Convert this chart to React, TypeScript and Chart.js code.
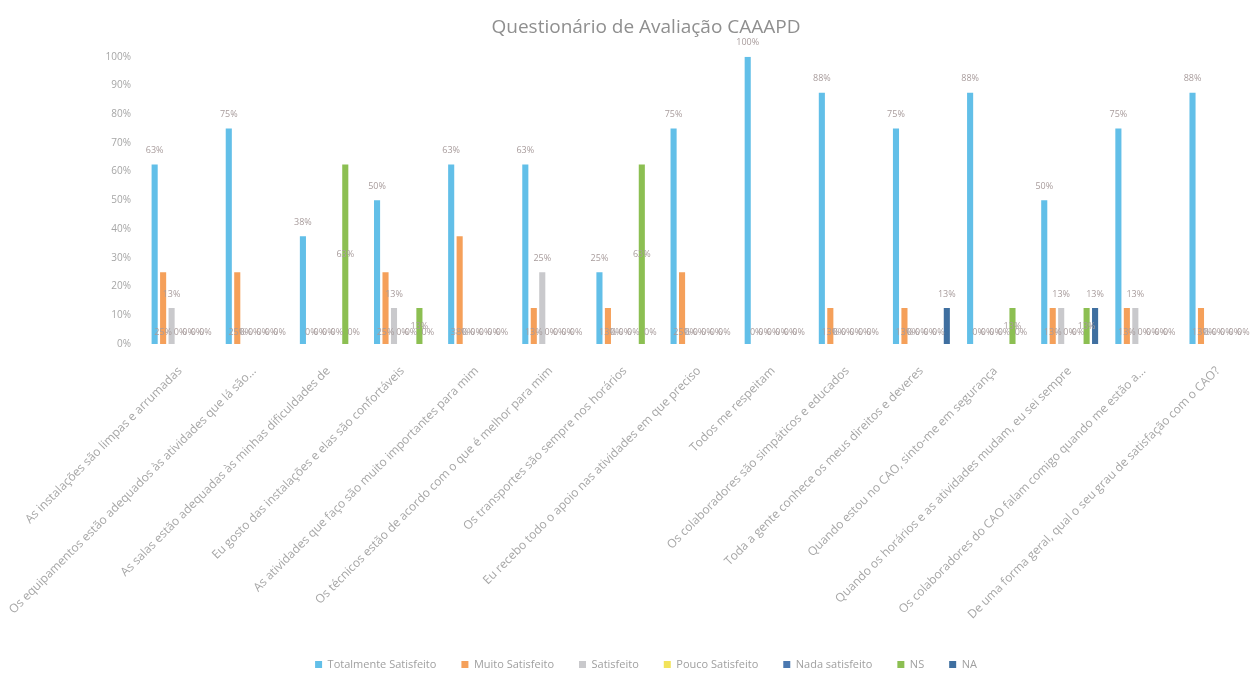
import React, { useEffect, useRef } from "react";
import { Chart, registerables } from "chart.js";

Chart.register(...registerables);

const categories: string[] = [
  "As instalações são limpas e arrumadas",
  "Os equipamentos estão adequados às atividades que lá são...",
  "As salas estão adequadas às minhas dificuldades de",
  "Eu gosto das instalações e elas são confortáveis",
  "As atividades que faço são muito importantes para mim",
  "Os técnicos estão de acordo com o que é melhor para mim",
  "Os transportes são sempre nos horários",
  "Eu recebo todo o apoio nas atividades em que preciso",
  "Todos me respeitam",
  "Os colaboradores são simpáticos e educados",
  "Toda a gente conhece os meus direitos e deveres",
  "Quando estou no CAO, sinto-me em segurança",
  "Quando os horários e as atividades mudam, eu sei sempre",
  "Os colaboradores do CAO falam comigo quando me estão a...",
  "De uma forma geral, qual o seu grau de satisfação com o CAO?",
];

const totalmenteSatisfeito = [62.5, 75, 37.5, 50, 62.5, 62.5, 25, 75, 100, 87.5, 75, 87.5, 50, 75, 87.5];
const muitoSatisfeito = [25, 25, 0, 25, 37.5, 12.5, 12.5, 25, 0, 12.5, 12.5, 0, 12.5, 12.5, 12.5];
const satisfeito = [12.5, 0, 0, 12.5, 0, 25, 0, 0, 0, 0, 0, 0, 12.5, 12.5, 0];
const poucoSatisfeito = [0, 0, 0, 0, 0, 0, 0, 0, 0, 0, 0, 0, 0, 0, 0];
const nadaSatisfeito = [0, 0, 0, 0, 0, 0, 0, 0, 0, 0, 0, 0, 0, 0, 0];
const ns = [0, 0, 62.5, 12.5, 0, 0, 62.5, 0, 0, 0, 0, 12.5, 12.5, 0, 0];
const na = [0, 0, 0, 0, 0, 0, 0, 0, 0, 0, 12.5, 0, 12.5, 0, 0];

const seriesNames = ["Totalmente Satisfeito", "Muito Satisfeito", "Satisfeito", "Pouco Satisfeito", "Nada satisfeito", "NS", "NA"];
const seriesColors = ["#62bfe8", "#f5a05a", "#c9c9cc", "#f2e35a", "#4a78b0", "#8cbf52", "#3f6fa0"];
const labelPositions = ["end", "base", "end", "end", "end", "center", "end"];

const yTicks = [0, 10, 20, 30, 40, 50, 60, 70, 80, 90, 100];

const FONT = '"Open Sans", "Noto Sans", sans-serif';

const barLabels = {
  id: "barLabels",
  afterDatasetsDraw(chart: any) {
    const ctx = chart.ctx;
    ctx.save();
    ctx.font = `9px ${FONT}`;
    ctx.fillStyle = "#a89c9c";
    ctx.textAlign = "center";
    ctx.textBaseline = "middle";
    chart.data.datasets.forEach((ds: any, di: number) => {
      const meta = chart.getDatasetMeta(di);
      const pos = labelPositions[di];
      meta.data.forEach((bar: any, i: number) => {
        const v = ds.data[i] as number;
        const p = bar.getProps(["x", "y", "base"], true);
        let ly: number;
        if (v === 0 || pos === "base") ly = p.base - 12;
        else if (pos === "center") ly = (p.y + p.base) / 2;
        else ly = p.y - 14;
        ctx.fillText(Math.round(v) + "%", p.x, ly);
      });
    });
    ctx.restore();
  },
};

export default function App() {
  const ref = useRef<HTMLCanvasElement | null>(null);
  useEffect(() => {
    document.body.style.margin = "0";
    if (!ref.current) return;
    const data = [totalmenteSatisfeito, muitoSatisfeito, satisfeito, poucoSatisfeito, nadaSatisfeito, ns, na];
    const chart = new Chart(ref.current, {
      type: "bar",
      data: {
        labels: categories,
        datasets: seriesNames.map((name, i) => ({
          label: name,
          data: data[i],
          backgroundColor: seriesColors[i],
          borderWidth: 0,
          barPercentage: 0.72,
          categoryPercentage: 0.8,
        })),
      },
      options: {
        responsive: false,
        animation: false,
        layout: { padding: { left: 0, right: 0, top: 0, bottom: -4 } },
        plugins: {
          title: {
            display: true,
            text: "Questionário de Avaliação CAAAPD",
            color: "#8f8f8f",
            font: { family: FONT, size: 19, weight: "normal" },
            padding: { top: 16, bottom: 18 },
          },
          legend: {
            position: "bottom",
            labels: {
              boxWidth: 7,
              boxHeight: 7,
              color: "#a0a0a0",
              font: { family: FONT, size: 11 },
              padding: 25,
            },
          },
          tooltip: { enabled: false },
        },
        scales: {
          x: {
            grid: { display: false },
            border: { display: false },
            afterFit: (axis: any) => {
              axis.paddingLeft = 0;
              axis.paddingRight = 37;
            },
            ticks: {
              autoSkip: false,
              minRotation: 45,
              maxRotation: 45,
              color: "#a6a6a6",
              font: { family: FONT, size: 12 },
              padding: 12,
            },
          },
          y: {
            min: 0,
            max: 100,
            afterBuildTicks: (axis: any) => {
              axis.ticks = yTicks.map((v) => ({ value: v }));
            },
            afterFit: (axis: any) => {
              axis.width = 143;
            },
            grid: { display: false },
            border: { display: false },
            ticks: {
              color: "#a6a6a6",
              font: { family: FONT, size: 10 },
              callback: (v: any) => v + "%",
              padding: 4,
            },
          },
        },
      },
      plugins: [barLabels],
    });
    return () => chart.destroy();
  }, []);
  return (
    <div style={{ width: 1250, height: 676, overflow: "hidden" }}>
      <canvas ref={ref} width={1292} height={676} />
    </div>
  );
}
